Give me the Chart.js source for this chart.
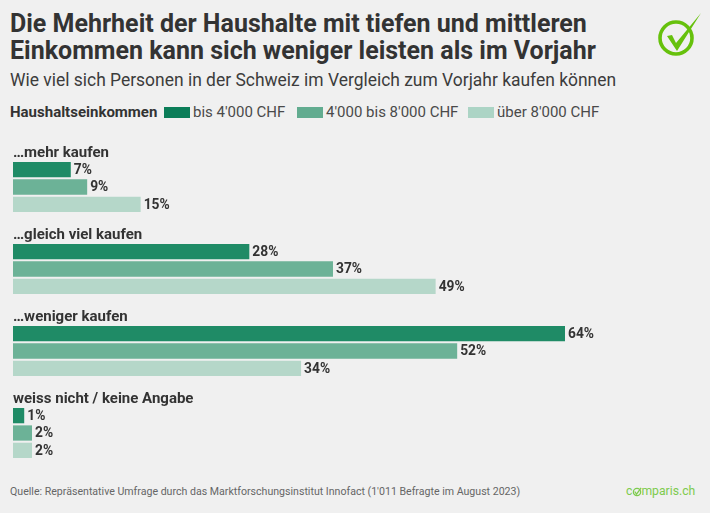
<!DOCTYPE html>
<html>
<head>
<meta charset="utf-8">
<script src="https://cdn.jsdelivr.net/npm/chart.js@4"></script>
<style>
  html, body { margin: 0; padding: 0; background: #f0f0f0; }
  body { width: 710px; height: 513px; position: relative; overflow: hidden; font-family: Roboto, sans-serif; color: #333; }
  .abs { position: absolute; white-space: nowrap; }
  #title { left: 10px; top: 10px; font-size: 25px; line-height: 27px; font-weight: 700; }
  #subtitle { left: 10px; top: 68px; font-size: 17.45px; line-height: 24px; color: #3c3c3c; }
  #legend { left: 10px; top: 103px; height: 18px; font-size: 15px; line-height: 18px; color: #4a4a4a; }
  #legend b { position: absolute; left: 0; color: #333; }
  #legend i { position: absolute; top: 4px; width: 26px; height: 11px; }
  #legend span { position: absolute; }
  #source { left: 10px; top: 484px; font-size: 10.6px; line-height: 16px; color: #666; }
  #brand { left: 626px; top: 482px; font-size: 12.2px; line-height: 18px; color: #7ecb4e; }
  #chart { position: absolute; left: 0; top: 146px; }
  svg { position: absolute; }
</style>
</head>
<body>
<div class="abs" id="title">Die Mehrheit der Haushalte mit tiefen und mittleren<br>Einkommen kann sich weniger leisten als im Vorjahr</div>
<div class="abs" id="subtitle">Wie viel sich Personen in der Schweiz im Vergleich zum Vorjahr kaufen können</div>
<div class="abs" id="legend"></div>
<canvas id="chart" width="710" height="328"></canvas>
<div class="abs" id="source">Quelle: Repräsentative Umfrage durch das Marktforschungsinstitut Innofact (1'011 Befragte im August 2023)</div>
<svg style="left:655px;top:10px" width="48" height="48" viewBox="0 0 48 48">
  <circle cx="21" cy="28" r="16" fill="none" stroke="#66c10c" stroke-width="3.6"/>
  <path d="M12 26 L17 25 L21 33 L46 3 L22 41 Z" fill="#66c10c"/>
</svg>
<div class="abs" id="brand">c<svg style="left:6px;top:4px" width="10" height="11" viewBox="0 0 11 12"><circle cx="5.5" cy="6.5" r="4" fill="none" stroke="#7ecb4e" stroke-width="1.4"/><path d="M3 6 L5 9 L10 2" fill="none" stroke="#7ecb4e" stroke-width="1.4"/></svg><span style="margin-left:9px">mparis.ch</span></div>
<script>
  const categories = ["…mehr kaufen", "…gleich viel kaufen", "…weniger kaufen", "weiss nicht / keine Angabe"];
  const seriesNames = ["bis 4'000 CHF", "4'000 bis 8'000 CHF", "über 8'000 CHF"];
  const low = [6.7, 27.4, 64, 1.3];
  const middle = [8.6, 37.1, 51.5, 2.2];
  const high = [14.8, 49, 33.4, 2.2];
  const lowLabels = ["7%", "28%", "64%", "1%"];
  const middleLabels = ["9%", "37%", "52%", "2%"];
  const highLabels = ["15%", "49%", "34%", "2%"];
  const legendTitle = "Haushaltseinkommen";

  const barColors = ["#1f8b66", "#6cb297", "#b5d7c9"];
  const legendColors = ["#0b7d58", "#62ac90", "#acd4c5"];
  const allLabels = [lowLabels, middleLabels, highLabels];

  // Legend
  const legend = document.getElementById("legend");
  legend.innerHTML = "<b>" + legendTitle + "</b>";
  const swatchX = [154, 287, 458];
  const labelX = [183, 316, 487];
  seriesNames.forEach(function (name, i) {
    legend.innerHTML += '<i style="left:' + swatchX[i] + "px;background:" + legendColors[i] + '"></i>' +
      '<span style="left:' + labelX[i] + 'px">' + name + "</span>";
  });

  // Category headings above each group, value labels behind each bar
  const barText = {
    id: "barText",
    afterDatasetsDraw: function (chart) {
      const ctx = chart.ctx;
      ctx.save();
      ctx.textBaseline = "middle";
      ctx.fillStyle = "#333";
      ctx.textAlign = "left";
      ctx.font = "700 15px Roboto";
      categories.forEach(function (cat, i) {
        ctx.fillText(cat, 13, chart.scales.y.getPixelForValue(i) - 34);
      });
      ctx.font = "700 13.8px Roboto";
      chart.data.datasets.forEach(function (ds, d) {
        chart.getDatasetMeta(d).data.forEach(function (bar, i) {
          ctx.fillText(allLabels[d][i], bar.x + 3, bar.y + 1);
        });
      });
      ctx.restore();
    },
  };

  new Chart(document.getElementById("chart"), {
    type: "bar",
    data: {
      labels: categories,
      datasets: [
        { label: seriesNames[0], data: low, backgroundColor: barColors[0] },
        { label: seriesNames[1], data: middle, backgroundColor: barColors[1] },
        { label: seriesNames[2], data: high, backgroundColor: barColors[2] },
      ],
    },
    options: {
      indexAxis: "y",
      responsive: false,
      animation: false,
      categoryPercentage: 0.635,
      barPercentage: 0.88,
      layout: { padding: { left: 13, right: 7, top: 0, bottom: 0 } },
      scales: {
        x: { display: false, min: 0, max: 80 },
        y: { display: false },
      },
      plugins: { legend: { display: false }, tooltip: { enabled: false } },
    },
    plugins: [barText],
  });
</script>
</body>
</html>
